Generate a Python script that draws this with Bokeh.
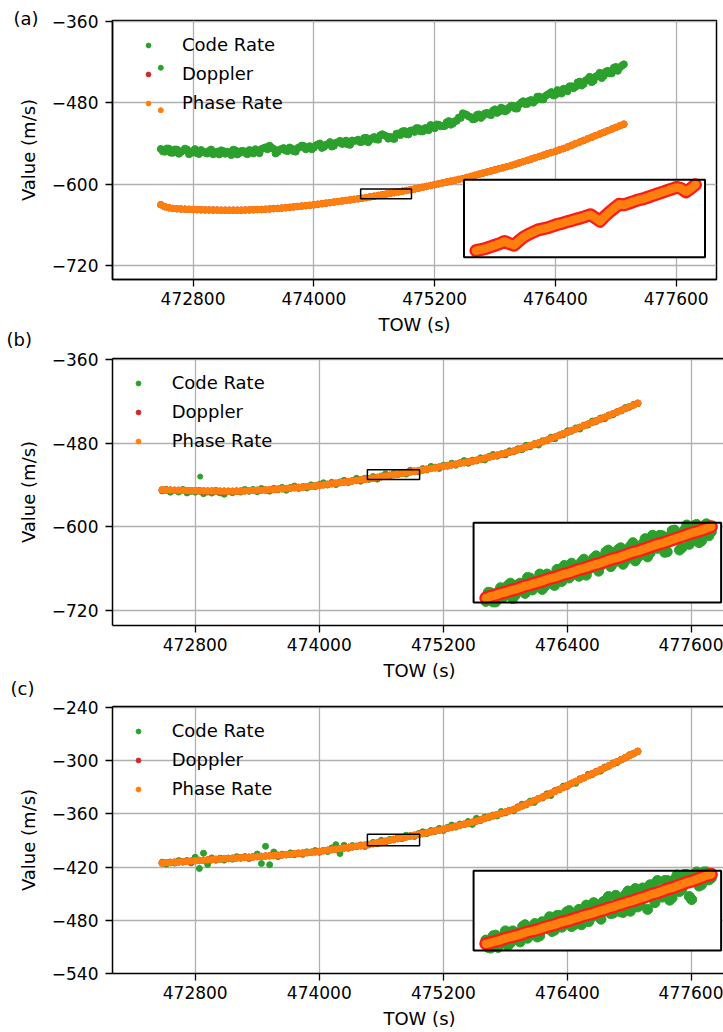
from bokeh.plotting import figure
from bokeh.models import (Range1d, FixedTicker, CustomJSTickFormatter, Legend, LegendItem,
                          LinearAxis, Title)
from bokeh.layouts import column
from bokeh.embed import file_html
from bokeh.resources import INLINE

FONT = "DejaVu Sans"
GREEN, RED, ORANGE = "#2ca02c", "#d62728", "#ff7f0e"
INSET_RED = "#ff1a1a"

# ---------------- data ----------------
tow = [472480, 472520, 472560, 472600, 472640, 472680, 472720, 472760, 472800, 472840,
       472880, 472920, 472960, 473000, 473040, 473080, 473120, 473160, 473200, 473240,
       473280, 473320, 473360, 473400, 473440, 473480, 473520, 473560, 473600, 473640,
       473680, 473720, 473760, 473800, 473840, 473880, 473920, 473960, 474000, 474040,
       474080, 474120, 474160, 474200, 474240, 474280, 474320, 474360, 474400, 474440,
       474480, 474520, 474560, 474600, 474640, 474680, 474720, 474760, 474800, 474840,
       474880, 474920, 474960, 475000, 475040, 475080, 475120, 475160, 475200, 475240,
       475280, 475320, 475360, 475400, 475440, 475480, 475520, 475560, 475600, 475640,
       475680, 475720, 475760, 475800, 475840, 475880, 475920, 475960, 476000, 476040,
       476080, 476120, 476160, 476200, 476240, 476280, 476320, 476360, 476400, 476440,
       476480, 476520, 476560, 476600, 476640, 476680, 476720, 476760, 476800, 476840,
       476880, 476920, 476960, 477000, 477040, 477080]
tow_mid = [472500, 472540, 472580, 472620, 472660, 472700, 472740, 472780, 472820, 472860,
           472900, 472940, 472980, 473020, 473060, 473100, 473140, 473180, 473220, 473260,
           473300, 473340, 473380, 473420, 473460, 473500, 473540, 473580, 473620, 473660,
           473700, 473740, 473780, 473820, 473860, 473900, 473940, 473980, 474020, 474060,
           474100, 474140, 474180, 474220, 474260, 474300, 474340, 474380, 474420, 474460,
           474500, 474540, 474580, 474620, 474660, 474700, 474740, 474780, 474820, 474860,
           474900, 474940, 474980, 475020, 475060, 475100, 475140, 475180, 475220, 475260,
           475300, 475340, 475380, 475420, 475460, 475500, 475540, 475580, 475620, 475660,
           475700, 475740, 475780, 475820, 475860, 475900, 475940, 475980, 476020, 476060,
           476100, 476140, 476180, 476220, 476260, 476300, 476340, 476380, 476420, 476460,
           476500, 476540, 476580, 476620, 476660, 476700, 476740, 476780, 476820, 476860,
           476900, 476940, 476980, 477020, 477060]

# panel (a)
phase_a = [-630.0, -633.0, -634.5, -635.5, -635.9, -636.3, -636.5, -636.8, -637.0, -637.3,
           -637.5, -637.6, -637.7, -637.8, -637.9, -638.0, -638.0, -638.0, -638.0, -638.0,
           -638.0, -637.8, -637.6, -637.4, -637.2, -637.0, -636.6, -636.2, -635.8, -635.4,
           -635.0, -634.4, -633.8, -633.2, -632.6, -632.0, -631.4, -630.8, -630.1, -629.3,
           -628.5, -627.7, -626.9, -626.1, -625.3, -624.5, -623.7, -622.9, -622.1, -621.3,
           -620.5, -619.5, -618.4, -617.4, -616.3, -615.3, -614.3, -613.2, -612.2, -611.1,
           -610.1, -609.1, -608.0, -606.9, -605.6, -604.3, -603.0, -601.7, -600.5, -599.2,
           -597.9, -596.6, -595.3, -594.1, -592.8, -591.5, -589.9, -588.3, -586.7, -585.1,
           -583.5, -581.9, -580.3, -578.7, -577.1, -575.5, -573.9, -572.3, -570.5, -568.6,
           -566.7, -564.8, -562.9, -560.9, -559.0, -557.1, -555.2, -553.3, -551.4, -549.4,
           -547.5, -545.1, -542.7, -540.3, -537.9, -535.5, -533.1, -530.7, -528.3, -525.9,
           -523.5, -521.1, -518.7, -516.3, -513.9, -511.5]
doppler_a = list(phase_a)  # Doppler lies under Phase Rate everywhere
code_a = [-548.0, -552.0, -547.5, -553.5, -548.9, -552.3, -547.5, -555.8, -551.0, -554.3,
          -549.5, -553.6, -550.7, -555.8, -551.9, -550.0, -555.0, -553.0, -549.0, -556.0,
          -551.0, -553.8, -549.6, -554.4, -551.2, -548.0, -545.6, -543.2, -547.8, -552.4,
          -548.0, -550.4, -545.8, -551.2, -546.6, -543.0, -548.4, -543.8, -546.1, -541.3,
          -546.5, -541.7, -537.9, -543.1, -538.3, -540.5, -535.7, -541.9, -536.1, -534.3,
          -537.5, -531.5, -534.4, -530.4, -534.3, -526.3, -529.3, -530.2, -533.2, -525.1,
          -522.1, -526.1, -521.0, -522.9, -517.6, -522.3, -517.0, -512.7, -517.5, -512.2,
          -513.9, -508.6, -512.3, -507.1, -501.8, -495.5, -497.9, -501.3, -503.7, -497.1,
          -499.5, -494.9, -498.3, -489.7, -493.1, -488.5, -490.9, -484.3, -488.5, -482.6,
          -477.7, -481.8, -475.9, -476.9, -471.0, -475.1, -468.2, -464.3, -468.4, -463.4,
          -459.5, -463.1, -455.7, -456.3, -448.9, -452.5, -445.1, -449.7, -441.3, -435.9,
          -440.5, -433.1, -436.7, -427.3, -427.9, -423.5]
code_a_mid = [-551.5, -547.3, -553.5, -548.7, -555.1, -550.4, -548.7, -553.9, -548.2, -555.4,
              -551.6, -554.7, -548.8, -553.9, -556.0, -551.0, -552.0, -557.0, -550.0, -554.0,
              -550.9, -555.7, -551.5, -548.3, -554.1, -546.8, -548.4, -546.0, -554.6, -549.2,
              -546.7, -551.1, -547.5, -551.9, -545.3, -543.7, -547.1, -548.5, -542.7, -539.9,
              -545.1, -541.3, -544.5, -538.7, -535.9, -540.1, -541.3, -535.5, -535.7, -537.9,
              -532.0, -538.0, -531.9, -533.9, -527.8, -527.8, -532.8, -532.7, -525.7, -527.6,
              -521.6, -526.6, -520.5, -517.3, -522.0, -517.7, -520.4, -514.1, -511.9, -514.6,
              -514.3, -507.0, -510.7, -506.5, -502.2, -496.7, -500.1, -504.5, -497.9, -502.3,
              -495.7, -497.1, -491.5, -494.9, -487.3, -492.7, -487.1, -484.4, -488.6, -479.7,
              -481.8, -476.9, -479.9, -471.0, -475.1, -470.2, -466.3, -469.4, -461.4, -466.5,
              -460.3, -455.9, -458.5, -450.1, -454.7, -447.3, -441.9, -447.5, -440.1, -443.7,
              -434.3, -436.9, -428.5, -433.1, -425.7]
outlier_tow_a = [472480]
outlier_code_a = [-428.5]
outlier_phase_a = [-491.0]

# panel (b)
phase_b = [-547.0, -547.2, -547.3, -547.5, -547.6, -547.8, -547.9, -548.1, -548.2, -548.4,
           -548.5, -548.6, -548.6, -548.7, -548.8, -548.8, -548.9, -549.0, -548.9, -548.6,
           -548.4, -548.0, -547.8, -547.5, -547.4, -547.2, -546.8, -546.3, -545.9, -545.4,
           -545.0, -544.5, -543.9, -543.4, -542.9, -542.3, -541.8, -541.3, -540.6, -539.8,
           -539.0, -538.2, -537.4, -536.6, -535.8, -535.0, -534.2, -533.4, -532.6, -531.8,
           -531.0, -530.0, -529.1, -528.1, -527.2, -526.2, -525.2, -524.3, -523.3, -522.4,
           -521.4, -520.4, -519.5, -518.5, -517.4, -516.4, -515.4, -514.3, -513.3, -512.2,
           -511.2, -510.2, -509.1, -508.1, -507.0, -506.0, -504.6, -503.1, -501.7, -500.2,
           -498.8, -497.3, -495.9, -494.4, -493.0, -491.5, -489.6, -487.6, -485.7, -483.8,
           -481.8, -479.9, -478.0, -475.9, -473.6, -471.3, -469.0, -466.7, -464.4, -462.1,
           -459.8, -457.5, -455.2, -452.8, -450.4, -448.0, -445.6, -443.2, -440.7, -438.2,
           -435.7, -433.1, -430.6, -428.1, -425.5, -423.0]
doppler_b = list(phase_b)
code_b = [-548.5, -546.2, -550.3, -548.0, -550.1, -546.3, -551.4, -549.1, -550.2, -547.9,
          -552.5, -550.1, -551.6, -547.7, -551.3, -553.3, -549.4, -551.0, -548.4, -550.1,
          -546.4, -549.0, -546.3, -549.5, -544.9, -547.2, -548.8, -544.8, -546.9, -543.4,
          -547.5, -543.5, -541.4, -544.9, -542.4, -544.3, -539.8, -542.3, -539.1, -536.8,
          -540.0, -536.2, -539.4, -535.6, -533.3, -536.5, -533.7, -530.4, -534.6, -530.3,
          -532.0, -528.0, -531.6, -527.1, -524.2, -527.7, -523.2, -524.8, -521.8, -524.4,
          -518.9, -519.9, -521.0, -516.5, -518.4, -513.4, -514.4, -516.3, -511.8, -513.2,
          -508.7, -511.7, -508.1, -505.1, -509.0, -504.5, -505.6, -501.1, -504.2, -499.2,
          -496.3, -498.8, -495.4, -496.9, -491.0, -492.5, -488.1, -489.6, -483.2, -485.3,
          -480.8, -482.9, -476.5, -476.9, -471.6, -473.8, -468.5, -468.2, -462.4, -463.1,
          -458.3, -460.0, -454.2, -454.3, -448.4, -449.0, -444.1, -445.2, -439.7, -439.7,
          -435.2, -434.1, -429.1, -428.6, -424.5, -423.5]
outlier_tow_b = [472848]
outlier_code_b = [-528.0]

# panel (c)
phase_c = [-415.5, -415.2, -414.9, -414.5, -414.2, -413.9, -413.6, -413.3, -412.9, -412.6,
           -412.3, -412.0, -411.7, -411.3, -411.0, -410.7, -410.4, -410.1, -409.8, -409.5,
           -409.2, -408.9, -408.6, -408.3, -408.0, -407.6, -407.3, -407.0, -406.7, -406.4,
           -405.9, -405.5, -405.1, -404.6, -404.2, -403.8, -403.3, -402.9, -402.4, -401.7,
           -401.1, -400.5, -399.8, -399.2, -398.5, -397.9, -397.3, -396.6, -396.0, -395.3,
           -394.7, -393.7, -392.8, -391.8, -390.9, -389.9, -388.9, -388.0, -387.0, -386.1,
           -385.1, -384.1, -383.2, -382.2, -381.3, -380.3, -379.3, -378.4, -377.3, -376.2,
           -375.1, -374.0, -372.9, -371.7, -370.6, -369.5, -368.1, -366.6, -365.2, -363.7,
           -362.3, -360.9, -359.4, -358.0, -356.5, -355.1, -353.1, -351.1, -349.1, -347.1,
           -345.1, -343.1, -341.1, -339.0, -336.8, -334.6, -332.4, -330.2, -328.0, -325.8,
           -323.6, -321.4, -319.2, -317.0, -314.8, -312.6, -310.4, -308.2, -305.9, -303.6,
           -301.3, -299.0, -296.6, -294.3, -292.0, -289.7]
doppler_c = list(phase_c)
code_c = [-414.5, -416.7, -414.4, -415.5, -412.7, -414.4, -412.6, -415.3, -408.9, -421.6,
          -404.3, -417.0, -409.7, -412.3, -410.0, -412.2, -409.9, -411.1, -408.3, -410.0,
          -408.2, -410.4, -408.1, -405.3, -416.0, -396.6, -417.3, -403.0, -408.2, -405.4,
          -406.4, -404.0, -406.1, -404.1, -405.7, -402.8, -403.8, -401.4, -403.4, -401.2,
          -402.6, -398.5, -394.8, -404.7, -395.5, -398.9, -395.8, -397.1, -395.0, -396.8,
          -394.2, -392.2, -393.8, -389.8, -392.4, -388.9, -389.4, -386.5, -388.0, -384.1,
          -384.6, -385.6, -382.2, -380.2, -382.3, -378.8, -379.8, -376.4, -378.8, -375.2,
          -372.6, -375.0, -371.4, -372.2, -368.6, -372.0, -365.1, -367.6, -363.7, -364.2,
          -361.3, -362.4, -357.4, -359.0, -356.0, -356.6, -352.1, -349.1, -350.1, -345.6,
          -347.1, -342.6, -342.1, -337.5, -339.3, -333.6, -332.9, -328.7, -329.0, -325.3,
          -325.6, -320.4, -319.7, -315.5, -315.8, -312.1, -311.9, -307.2, -306.4, -302.6,
          -302.3, -298.5, -297.1, -293.3, -292.5, -289.2]

# zoomed window shown in the insets
zoom_tow = (474465, 474970)
zoom_a = (-621.2, -607.0)
zoom_b = (-532.0, -518.0)
zoom_c = (-396.0, -383.0)

inset_tow = [474490, 474500, 474510, 474520, 474530, 474540, 474550, 474560, 474570, 474580,
             474590, 474600, 474610, 474620, 474630, 474640, 474650, 474660, 474670, 474680,
             474690, 474700, 474710, 474720, 474730, 474740, 474750, 474760, 474770, 474780,
             474790, 474800, 474810, 474820, 474830, 474840, 474850, 474860, 474870, 474880,
             474890, 474900, 474910, 474920, 474930, 474940, 474950]
inset_tow_mid = [474495, 474505, 474515, 474525, 474535, 474545, 474555, 474565, 474575,
                 474585, 474595, 474605, 474615, 474625, 474635, 474645, 474655, 474665,
                 474675, 474685, 474695, 474705, 474715, 474725, 474735, 474745, 474755,
                 474765, 474775, 474785, 474795, 474805, 474815, 474825, 474835, 474845,
                 474855, 474865, 474875, 474885, 474895, 474905, 474915, 474925, 474935,
                 474945]
inset_phase_a = [-620.0, -619.8, -619.6, -619.3, -619.0, -618.7, -618.3, -618.7, -619.0, -618.2,
                 -617.5, -617.0, -616.6, -616.2, -616.0, -615.8, -615.5, -615.2, -615.0, -614.7,
                 -614.5, -614.2, -614.0, -613.7, -613.4, -614.0, -614.6, -613.7, -612.9, -612.2,
                 -611.5, -611.6, -611.3, -611.0, -610.7, -610.5, -610.2, -609.9, -609.6, -609.3,
                 -609.0, -608.7, -608.4, -608.6, -609.2, -608.6, -607.9]
inset_doppler_a = list(inset_phase_a)
inset_phase_b = [-531.2, -530.9, -530.7, -530.4, -530.2, -529.9, -529.7, -529.4, -529.1, -528.9,
                 -528.6, -528.4, -528.1, -527.8, -527.6, -527.3, -527.0, -526.8, -526.5, -526.2,
                 -526.0, -525.7, -525.4, -525.2, -524.9, -524.6, -524.3, -524.1, -523.8, -523.5,
                 -523.2, -523.0, -522.7, -522.4, -522.1, -521.8, -521.6, -521.3, -521.0, -520.7,
                 -520.4, -520.1, -519.8, -519.6, -519.3, -519.0, -518.7]
inset_doppler_b = list(inset_phase_b)
inset_code_b = [-531.8, -530.3, -531.9, -529.4, -530.6, -528.6, -530.7, -528.6, -530.4, -527.7,
                -529.2, -527.0, -529.2, -527.3, -529.0, -526.2, -525.5, -527.7, -525.8, -527.4,
                -524.4, -526.2, -524.2, -526.5, -524.0, -522.8, -525.1, -522.7, -525.3, -522.9,
                -521.5, -524.1, -521.7, -524.0, -520.2, -522.5, -520.3, -523.1, -519.4, -520.3,
                -522.4, -518.4, -521.2, -518.3, -521.2, -518.2, -519.6]
inset_code_b_mid = [-530.2, -531.9, -530.2, -531.1, -529.0, -531.3, -528.9, -529.6, -527.6,
                    -529.8, -528.3, -529.7, -527.0, -528.3, -526.2, -528.3, -526.4, -525.1,
                    -527.1, -524.9, -527.2, -524.8, -523.8, -525.5, -523.1, -525.7, -523.3,
                    -522.4, -524.6, -522.1, -524.7, -522.3, -520.8, -523.3, -520.9, -520.2,
                    -523.2, -520.4, -519.3, -522.8, -519.3, -521.8, -518.5, -521.5, -518.5,
                    -520.3]
inset_phase_c = [-394.9, -394.7, -394.5, -394.3, -394.0, -393.8, -393.6, -393.4, -393.1, -392.9,
                 -392.7, -392.5, -392.2, -392.0, -391.8, -391.5, -391.3, -391.1, -390.8, -390.6,
                 -390.3, -390.1, -389.9, -389.6, -389.4, -389.1, -388.9, -388.6, -388.4, -388.1,
                 -387.9, -387.6, -387.4, -387.1, -386.8, -386.6, -386.3, -386.0, -385.8, -385.5,
                 -385.2, -384.9, -384.7, -384.4, -384.1, -383.8, -383.6]
inset_doppler_c = list(inset_phase_c)
inset_code_c = [-394.3, -395.6, -393.5, -394.8, -392.8, -394.8, -393.2, -394.6, -391.8, -393.5,
                -391.6, -393.6, -391.4, -390.5, -392.7, -390.3, -391.7, -389.5, -391.8, -389.3,
                -389.8, -391.3, -388.2, -390.4, -388.0, -387.2, -389.9, -387.4, -389.8, -386.3,
                -387.2, -388.9, -385.8, -389.3, -385.3, -384.6, -387.3, -384.6, -387.4, -383.7,
                -386.0, -383.6, -387.7, -383.2, -385.3, -383.2, -384.2]
inset_code_c_mid = [-395.5, -393.6, -395.5, -393.6, -395.2, -392.8, -394.0, -392.1, -394.0,
                    -392.4, -393.8, -391.3, -392.4, -392.9, -390.3, -392.2, -389.7, -392.1,
                    -390.0, -391.8, -388.6, -390.6, -388.5, -390.9, -388.8, -390.0, -387.0,
                    -389.7, -386.9, -389.6, -385.9, -388.3, -386.1, -385.3, -388.2, -387.1,
                    -384.6, -387.8, -384.4, -386.4, -383.6, -387.2, -383.7, -385.5, -383.2,
                    -384.5]

x_ticks = [472800, 474000, 475200, 476400, 477600]
y_ticks_ab = [-360, -480, -600, -720]
y_ticks_c = [-240, -300, -360, -420, -480, -540]
series_labels = ["Code Rate", "Doppler", "Phase Rate"]
panel_tags = ["(a)", "(b)", "(c)"]

# ---------------- layout constants ----------------
X_LIM = (472000, 478000)
INSET_POS = (0.582, 0.086, 0.399, 0.299)   # axes fraction: left, bottom, width, height


def tag_title(text, offset, standoff, valign):
    return Title(text=text, align="left", offset=offset, standoff=standoff,
                 vertical_align=valign, text_font=FONT, text_font_size="18px",
                 text_font_style="normal", text_color="black")


def make_panel(code, dop, phase, y_lim, y_ticks, zoom_y, in_code, in_code_mid, in_dop, in_phase,
               left, frame_w, right, x_end, top, frame_h, bottom, full_frame,
               code_size, extra_code=None, out_tow=None, out_code=None, out_phase=None):
    p = figure(frame_width=frame_w, frame_height=frame_h,
               x_range=Range1d(X_LIM[0], x_end), y_range=Range1d(*y_lim),
               output_backend="svg", toolbar_location=None,
               min_border_left=left, min_border_right=right,
               min_border_top=top, min_border_bottom=bottom,
               background_fill_color="white", border_fill_color="white")
    p.outline_line_color = "black" if full_frame else None
    p.outline_line_width = 1.5

    xa, ya = p.xaxis[0], p.yaxis[0]
    xa.ticker = FixedTicker(ticks=x_ticks)
    ya.ticker = FixedTicker(ticks=y_ticks)
    p.xgrid[0].ticker = FixedTicker(ticks=x_ticks)
    p.ygrid[0].ticker = FixedTicker(ticks=y_ticks)
    xa.formatter = CustomJSTickFormatter(code="return tick.toFixed(0);")
    ya.formatter = CustomJSTickFormatter(
        code="return (tick < 0 ? '\\u2212' : '') + Math.abs(tick).toFixed(0);")
    for ax in (xa, ya):
        ax.axis_line_color = "black"
        ax.axis_line_width = 1.5
        ax.major_tick_line_color = "black"
        ax.major_tick_line_width = 1.3
        ax.major_tick_out = 7
        ax.major_tick_in = 0
        ax.minor_tick_line_color = None
        ax.major_label_text_font = FONT
        ax.major_label_text_font_size = "17px"
        ax.major_label_text_color = "black"
        ax.axis_label_text_font = FONT
        ax.axis_label_text_font_size = "18px"
        ax.axis_label_text_font_style = "normal"
        ax.axis_label_text_color = "black"
    xa.axis_label = "TOW (s)"
    ya.axis_label = "Value (m/s)"
    xa.major_label_standoff = 5
    xa.axis_label_standoff = 6
    ya.major_label_standoff = 7
    ya.axis_label_standoff = 10
    for g in (p.xgrid[0], p.ygrid[0]):
        g.grid_line_color = "#b0b0b0"
        g.grid_line_width = 1.3

    if not full_frame:
        top_ax = LinearAxis(ticker=FixedTicker(ticks=[]), axis_line_color="black",
                            axis_line_width=1.5, major_tick_out=0, major_tick_in=0,
                            major_tick_line_color=None, minor_tick_line_color=None,
                            major_label_text_font_size="0px", major_label_standoff=0)
        p.add_layout(top_ax, "above")

    # main series
    r_code = p.scatter(tow, code, size=code_size, color=GREEN)
    if extra_code is not None:
        p.scatter(tow_mid, extra_code, size=code_size, color=GREEN)
    r_dop = p.scatter(tow, dop, size=6.5, color=RED)
    r_phase = p.scatter(tow, phase, size=6.5, color=ORANGE)
    if out_tow is not None:
        if out_code is not None:
            p.scatter(out_tow, out_code, size=5, color=GREEN)
        if out_phase is not None:
            p.scatter(out_tow, out_phase, size=5, color=ORANGE)

    # rectangle marking the zoomed window
    p.quad(left=[zoom_tow[0]], right=[zoom_tow[1]], bottom=[zoom_y[0]], top=[zoom_y[1]],
           fill_color=None, line_color="black", line_width=1.5)

    # inset
    xl, xr = X_LIM
    yb, yt = y_lim
    fx, fy, fw, fh = INSET_POS
    tx = Range1d(xl + fx * (xr - xl), xl + (fx + fw) * (xr - xl))
    ty = Range1d(yb + fy * (yt - yb), yb + (fy + fh) * (yt - yb))
    sub = p.subplot(x_source=Range1d(*zoom_tow), y_source=Range1d(*zoom_y),
                    x_target=tx, y_target=ty)
    sub.quad(left=[zoom_tow[0]], right=[zoom_tow[1]], bottom=[zoom_y[0]], top=[zoom_y[1]],
             fill_color="white", line_color=None)
    if in_code is not None:
        sub.scatter(inset_tow, in_code, size=10, color=GREEN)
        sub.scatter(inset_tow_mid, in_code_mid, size=10, color=GREEN)
    sub.line(inset_tow, in_dop, line_width=13, color=INSET_RED,
             line_cap="round", line_join="round")
    sub.line(inset_tow, in_phase, line_width=8.5, color=ORANGE,
             line_cap="round", line_join="round")
    sub.quad(left=[zoom_tow[0]], right=[zoom_tow[1]], bottom=[zoom_y[0]], top=[zoom_y[1]],
             fill_color=None, line_color="black", line_width=2)

    legend = Legend(items=[LegendItem(label=series_labels[0], renderers=[r_code]),
                           LegendItem(label=series_labels[1], renderers=[r_dop]),
                           LegendItem(label=series_labels[2], renderers=[r_phase])],
                    location="top_left", margin=14, padding=0, spacing=8,
                    glyph_width=44, glyph_height=12, label_standoff=12,
                    label_text_font=FONT, label_text_font_size="18px",
                    label_text_color="black", background_fill_alpha=0,
                    border_line_color=None)
    p.add_layout(legend)
    return p


pa = make_panel(code_a, doppler_a, phase_a, (-740, -359), y_ticks_ab, zoom_a,
                None, None, inset_doppler_a, inset_phase_a,
                left=112, frame_w=604, right=7, x_end=478000, top=20, frame_h=259,
                bottom=71, full_frame=True, code_size=7, extra_code=code_a_mid,
                out_tow=outlier_tow_a, out_code=outlier_code_a, out_phase=outlier_phase_a)
pb = make_panel(code_b, doppler_b, phase_b, (-741, -359), y_ticks_ab, zoom_b,
                inset_code_b, inset_code_b_mid, inset_doppler_b, inset_phase_b,
                left=109, frame_w=614, right=0, x_end=477938, top=8, frame_h=267,
                bottom=74, full_frame=False, code_size=6,
                out_tow=outlier_tow_b, out_code=outlier_code_b)
pc = make_panel(code_c, doppler_c, phase_c, (-540, -239), y_ticks_c, zoom_c,
                inset_code_c, inset_code_c_mid, inset_doppler_c, inset_phase_c,
                left=109, frame_w=614, right=0, x_end=477938, top=7, frame_h=267,
                bottom=59, full_frame=False, code_size=6)

# panel tags: "(a)" above panel (a); "(b)" and "(c)" sit in the band under the
# previous panel's x-axis label
pa.title = tag_title(panel_tags[0], -99, -16, "bottom")
pa.add_layout(tag_title(panel_tags[1], -106, -18, "top"), "below")
pb.add_layout(tag_title(panel_tags[2], -102, -12, "top"), "below")

layout = column(pa, pb, pc)
open("out.html", "w").write(file_html(layout, INLINE))
